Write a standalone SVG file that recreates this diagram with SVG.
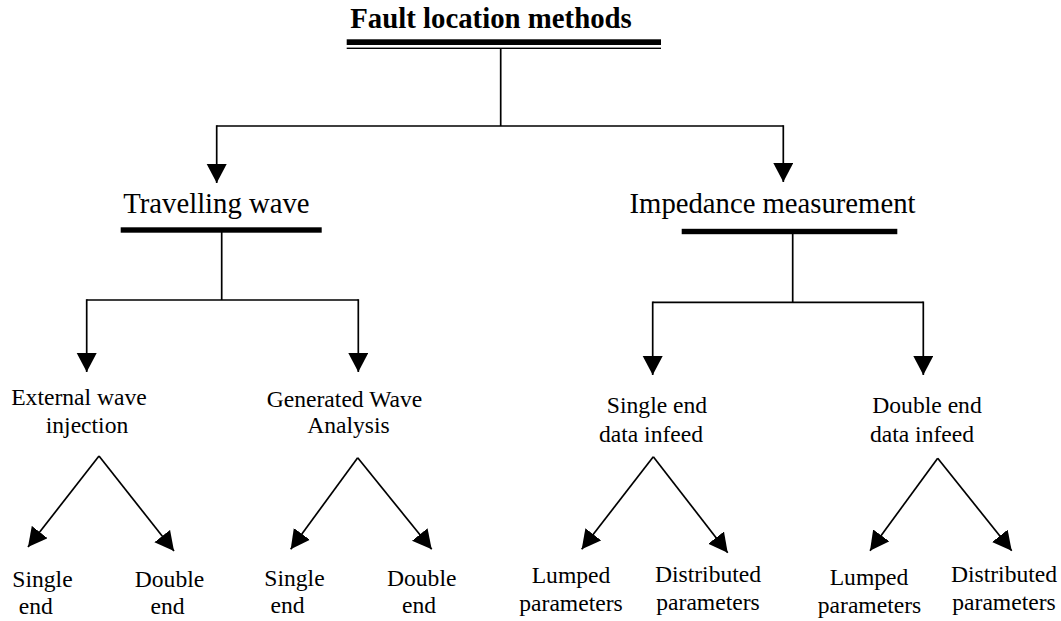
<svg xmlns="http://www.w3.org/2000/svg" width="1061" height="621" viewBox="0 0 1061 621">
  <style>
    .lbl { font-family: "Liberation Serif", "Times New Roman", serif; font-size: 23.6px; fill: #000; text-anchor: middle; }
    .head { font-family: "Liberation Serif", "Times New Roman", serif; font-size: 28.7px; fill: #000; text-anchor: middle; }
    .title { font-family: "Liberation Serif", "Times New Roman", serif; font-size: 28.8px; font-weight: bold; fill: #000; text-anchor: middle; }
    .wire { fill: none; stroke: #000; stroke-width: 1.7; }
    .arrow { fill: none; stroke: #000; stroke-width: 1.7; marker-end: url(#tip); }
    .bar { fill: #000; }
  </style>
  <defs>
    <marker id="tip" markerUnits="userSpaceOnUse" markerWidth="20" markerHeight="21" refX="19" refY="10" orient="auto" viewBox="0 0 20 21">
      <path d="M0,0 L19,10 L0,20 z" fill="#000"/>
    </marker>
  </defs>

  <!-- root -->
  <g id="node-root">
    <text class="title" x="491" y="28">Fault location methods</text>
    <rect class="bar" x="346.7" y="39.3" width="314.3" height="5.7"/>
    <rect class="bar" x="346.7" y="47.6" width="314.3" height="1.4"/>
  </g>

  <!-- second level -->
  <g id="node-travelling">
    <text class="head" x="216.4" y="212.7">Travelling wave</text>
    <rect class="bar" x="120.7" y="227.3" width="201" height="5.4"/>
  </g>
  <g id="node-impedance">
    <text class="head" x="772.5" y="213">Impedance measurement</text>
    <rect class="bar" x="681.7" y="228.8" width="215.6" height="5.4"/>
  </g>

  <!-- third level -->
  <g id="node-external">
    <text class="lbl" x="79" y="405">External wave</text>
    <text class="lbl" x="87" y="432.7">injection</text>
  </g>
  <g id="node-generated">
    <text class="lbl" x="344.5" y="406.5">Generated Wave</text>
    <text class="lbl" x="348.5" y="433.3">Analysis</text>
  </g>
  <g id="node-single-infeed">
    <text class="lbl" x="657" y="413.3">Single end</text>
    <text class="lbl" x="651" y="441.7">data infeed</text>
  </g>
  <g id="node-double-infeed">
    <text class="lbl" x="927" y="413.3">Double end</text>
    <text class="lbl" x="922" y="441.7">data infeed</text>
  </g>

  <!-- leaves -->
  <g id="leaf-ext-single">
    <text class="lbl" x="42.5" y="587">Single</text>
    <text class="lbl" x="35.7" y="614">end</text>
  </g>
  <g id="leaf-ext-double">
    <text class="lbl" x="169.5" y="587">Double</text>
    <text class="lbl" x="167.5" y="614">end</text>
  </g>
  <g id="leaf-gen-single">
    <text class="lbl" x="294.5" y="585.5">Single</text>
    <text class="lbl" x="287.5" y="612.5">end</text>
  </g>
  <g id="leaf-gen-double">
    <text class="lbl" x="421.7" y="585.5">Double</text>
    <text class="lbl" x="419" y="612.5">end</text>
  </g>
  <g id="leaf-sei-lumped">
    <text class="lbl" x="571" y="583">Lumped</text>
    <text class="lbl" x="571" y="610.5">parameters</text>
  </g>
  <g id="leaf-sei-distributed">
    <text class="lbl" x="708" y="582">Distributed</text>
    <text class="lbl" x="708" y="610">parameters</text>
  </g>
  <g id="leaf-dei-lumped">
    <text class="lbl" x="869" y="585">Lumped</text>
    <text class="lbl" x="869.5" y="613">parameters</text>
  </g>
  <g id="leaf-dei-distributed">
    <text class="lbl" x="1004" y="582">Distributed</text>
    <text class="lbl" x="1004" y="610">parameters</text>
  </g>

  <!-- connectors -->
  <g id="connectors">
    <!-- root split -->
    <path class="wire" d="M500.7,48.5 V126 M216.7,126 H783.3"/>
    <path class="arrow" d="M216.7,125.2 V183"/>
    <path class="arrow" d="M783.3,125.2 V182"/>

    <!-- travelling wave split -->
    <path class="wire" d="M221.7,232 V300 M86.7,300 H358.3"/>
    <path class="arrow" d="M86.7,299.2 V372"/>
    <path class="arrow" d="M358.3,299.2 V372"/>

    <!-- impedance split -->
    <path class="wire" d="M792.7,233.5 V302.3 M652.7,302.3 H923.3"/>
    <path class="arrow" d="M652.7,301.5 V375"/>
    <path class="arrow" d="M923.3,301.5 V375"/>

    <!-- fork pairs -->
    <path class="arrow" d="M99,456 L28,547"/>
    <path class="arrow" d="M99,456 L174,551"/>
    <path class="arrow" d="M357.7,457.7 L290.7,549.3"/>
    <path class="arrow" d="M357.7,457.7 L431.7,549.3"/>
    <path class="arrow" d="M653.3,456.7 L581.7,549.3"/>
    <path class="arrow" d="M653.3,456.7 L727.7,552.7"/>
    <path class="arrow" d="M937.7,458.3 L870,550.7"/>
    <path class="arrow" d="M937.7,458.3 L1011.7,550.7"/>
  </g>
</svg>
